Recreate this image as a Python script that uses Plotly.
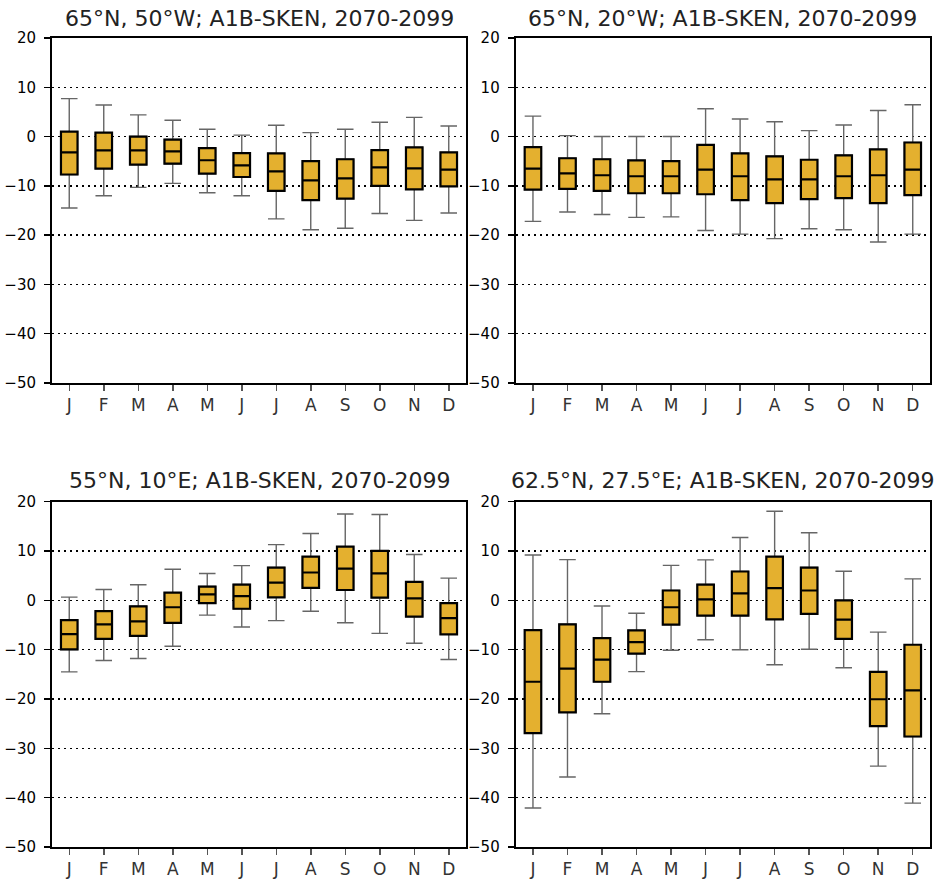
import plotly.graph_objects as go

months = ["J", "F", "M", "A", "M", "J", "J", "A", "S", "O", "N", "D"]
titles = [
    "65°N, 50°W; A1B-SKEN, 2070-2099",
    "65°N, 20°W; A1B-SKEN, 2070-2099",
    "55°N, 10°E; A1B-SKEN, 2070-2099",
    "62.5°N, 27.5°E; A1B-SKEN, 2070-2099",
]

# Panel 1: 65N 50W
p1_upper = [7.7, 6.4, 4.4, 3.3, 1.5, 0.3, 2.3, 0.8, 1.5, 2.9, 3.9, 2.15]
p1_q3 = [1.0, 0.8, 0.0, -0.6, -2.35, -3.35, -3.4, -5.0, -4.6, -2.75, -2.2, -3.2]
p1_med = [-3.2, -2.8, -2.8, -3.0, -4.8, -5.85, -7.05, -8.9, -8.5, -6.25, -6.45, -6.7]
p1_q1 = [-7.7, -6.5, -5.7, -5.5, -7.5, -8.2, -11.0, -12.9, -12.6, -10.0, -10.7, -10.1]
p1_lower = [-14.5, -12.0, -10.3, -9.5, -11.4, -12.0, -16.7, -18.9, -18.6, -15.6, -17.0, -15.5]

# Panel 2: 65N 20W
p2_upper = [4.15, 0.2, 0.0, 0.0, 0.0, 5.65, 3.55, 3.0, 1.2, 2.35, 5.3, 6.45]
p2_q3 = [-2.15, -4.4, -4.6, -4.85, -5.0, -1.7, -3.4, -4.0, -4.7, -3.8, -2.6, -1.2]
p2_med = [-6.5, -7.45, -7.85, -8.05, -8.05, -6.7, -8.05, -8.7, -8.7, -8.05, -7.85, -6.7]
p2_q1 = [-10.75, -10.6, -11.0, -11.5, -11.5, -11.7, -12.9, -13.5, -12.7, -12.5, -13.5, -11.9]
p2_lower = [-17.2, -15.3, -15.8, -16.4, -16.3, -19.05, -19.8, -20.7, -18.7, -18.9, -21.4, -19.8]

# Panel 3: 55N 10E
p3_upper = [0.65, 2.2, 3.15, 6.3, 5.45, 7.05, 11.3, 13.55, 17.5, 17.4, 9.3, 4.5]
p3_q3 = [-4.0, -2.2, -1.2, 1.55, 2.8, 3.2, 6.65, 8.85, 10.9, 10.05, 3.75, -0.55]
p3_med = [-6.85, -4.85, -4.25, -1.4, 1.2, 0.85, 3.6, 5.65, 6.45, 5.45, 0.4, -3.6]
p3_q1 = [-9.95, -7.8, -7.2, -4.55, -0.55, -1.7, 0.6, 2.55, 2.1, 0.55, -3.3, -6.9]
p3_lower = [-14.5, -12.2, -11.8, -9.3, -3.0, -5.4, -4.1, -2.2, -4.55, -6.7, -8.7, -12.0]

# Panel 4: 62.5N 27.5E
p4_upper = [9.2, 8.25, -1.15, -2.6, 7.1, 8.2, 12.75, 18.05, 13.7, 5.9, -6.45, 4.35]
p4_q3 = [-6.05, -4.85, -7.65, -6.1, 2.0, 3.2, 5.85, 8.85, 6.65, 0.0, -14.5, -9.0]
p4_med = [-16.5, -13.85, -12.0, -8.45, -1.4, 0.2, 1.4, 2.5, 2.0, -3.9, -20.05, -18.25]
p4_q1 = [-26.9, -22.7, -16.5, -10.8, -4.9, -3.1, -3.1, -3.85, -2.75, -7.8, -25.5, -27.6]
p4_lower = [-42.1, -35.8, -23.0, -14.45, -10.1, -8.0, -10.0, -13.05, -9.9, -13.65, -33.6, -41.1]

y_ticks = [20, 10, 0, -10, -20, -30, -40, -50]
y_ticktext = ["20", "10", "0", "\u221210", "\u221220", "\u221230", "\u221240", "\u221250"]

panels = [
    (p1_upper, p1_q3, p1_med, p1_q1, p1_lower),
    (p2_upper, p2_q3, p2_med, p2_q1, p2_lower),
    (p3_upper, p3_q3, p3_med, p3_q1, p3_lower),
    (p4_upper, p4_q3, p4_med, p4_q1, p4_lower),
]

W, H = 944, 884
# plot-area bounds in page pixels
PL, PR, PT, PB = 52, 930, 38, 847
ML, MR, MT, MB = PL, W - PR, PT, H - PB
AW, AH = W - ML - MR, H - MT - MB


def px_x(p):
    return (p - PL) / AW


def px_y(p):
    return 1 - (p - PT) / AH


x_doms = [(px_x(52), px_x(466)), (px_x(515.7), px_x(930))]
y_doms = [(px_y(383), px_y(38)), (px_y(847), px_y(501.7))]
title_y = [px_y(19), px_y(480)]

FILL = "#E4B02F"
FONT = "DejaVu Sans"

fig = go.Figure()
xs = list(range(12))
layout = {}
annotations = []
for i, (up, q3, med, q1, lo) in enumerate(panels):
    r, c = divmod(i, 2)
    ax = "" if i == 0 else str(i + 1)
    xa, ya = "x" + ax, "y" + ax
    # whiskers (thin gray)
    fig.add_trace(go.Box(
        x=xs, q1=q1, median=med, q3=q3, lowerfence=lo, upperfence=up,
        xaxis=xa, yaxis=ya, width=0.48, whiskerwidth=1,
        fillcolor="rgba(0,0,0,0)", line=dict(color="#666666", width=1.4),
        boxpoints=False, showlegend=False, hoverinfo="skip",
    ))
    # boxes (thick black outline)
    fig.add_trace(go.Box(
        x=xs, q1=q1, median=med, q3=q3, lowerfence=q1, upperfence=q3,
        xaxis=xa, yaxis=ya, width=0.48, whiskerwidth=0,
        fillcolor=FILL, line=dict(color="black", width=2.2),
        boxpoints=False, showlegend=False,
    ))
    layout["xaxis" + ax] = dict(
        domain=x_doms[c], anchor=ya, range=[-0.5, 11.5],
        tickmode="array", tickvals=xs, ticktext=months,
        ticks="outside", ticklen=6, tickwidth=1.5, tickcolor="#555",
        showline=True, linecolor="black", linewidth=2, mirror=True,
        showgrid=False, zeroline=False, fixedrange=True, automargin=False,
        tickfont=dict(family=FONT, size=17, color="#333"),
        ticklabelstandoff=0,
    )
    layout["yaxis" + ax] = dict(
        domain=y_doms[r], anchor=xa, range=[-50, 20],
        tickmode="array", tickvals=y_ticks, ticktext=y_ticktext,
        ticks="outside", ticklen=6, tickwidth=1.5, tickcolor="black",
        showline=True, linecolor="black", linewidth=2, mirror=True,
        showgrid=True, gridcolor="black", gridwidth=1.3, griddash="2px,4px",
        zeroline=False, fixedrange=True, automargin=False,
        tickfont=dict(family=FONT, size=15, color="black"),
        ticklabelstandoff=5,
    )
    annotations.append(dict(
        text=titles[i], xref="paper", yref="paper",
        x=(x_doms[c][0] + x_doms[c][1]) / 2, y=title_y[r],
        xanchor="center", yanchor="middle", showarrow=False,
        font=dict(family=FONT, size=22, color="#222"),
    ))

fig.update_layout(
    width=W, height=H,
    margin=dict(l=ML, r=MR, t=MT, b=MB, pad=0, autoexpand=False),
    paper_bgcolor="white", plot_bgcolor="white",
    boxmode="overlay", annotations=annotations, **layout,
)

# remove the default page margin so the figure fills the 944x884 window
fig.write_html(
    "out.html",
    config={"displayModeBar": False, "staticPlot": True},
    post_script="document.body.style.margin='0px';",
)
